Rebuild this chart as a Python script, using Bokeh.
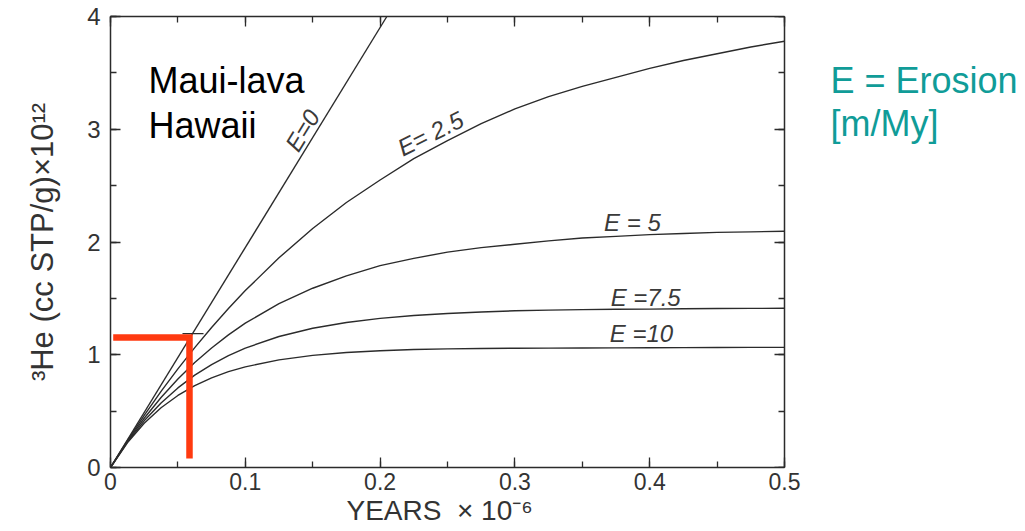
import math
from bokeh.plotting import figure
from bokeh.models import Label, LinearAxis, SingleIntervalTicker, Range1d, Title
from bokeh.embed import file_html
from bokeh.resources import INLINE

# ---- data ----
years = [0, 0.0125, 0.025, 0.0375, 0.05, 0.0625, 0.075, 0.0875, 0.1, 0.125, 0.15, 0.175, 0.2,
         0.225, 0.25, 0.275, 0.3, 0.325, 0.35, 0.375, 0.4, 0.425, 0.45, 0.475, 0.5]
e0_years = [0, 0.205]
e0_he = [0, 4.0]
e25_he = [0, 0.238, 0.463, 0.675, 0.875, 1.063, 1.242, 1.41, 1.569, 1.86, 2.12, 2.35, 2.55,
          2.74, 2.90, 3.05, 3.18, 3.29, 3.38, 3.46, 3.54, 3.61, 3.67, 3.73, 3.78]
e5_he = [0, 0.231, 0.437, 0.621, 0.785, 0.931, 1.06, 1.176, 1.28, 1.453, 1.59, 1.70, 1.79,
         1.855, 1.91, 1.95, 1.98, 2.01, 2.035, 2.05, 2.065, 2.075, 2.085, 2.09, 2.095]
e75_he = [0, 0.225, 0.414, 0.572, 0.706, 0.819, 0.913, 0.992, 1.059, 1.162, 1.235, 1.286, 1.323,
          1.348, 1.366, 1.379, 1.39, 1.396, 1.40, 1.403, 1.405, 1.408, 1.41, 1.411, 1.412]
e10_he = [0, 0.219, 0.392, 0.53, 0.639, 0.726, 0.795, 0.85, 0.893, 0.955, 0.994, 1.02, 1.036,
          1.046, 1.052, 1.055, 1.058, 1.059, 1.06, 1.061, 1.062, 1.063, 1.064, 1.065, 1.065]

curve_labels = ["E=0", "E= 2.5", "E = 5", "E =7.5", "E =10"]
label_x = [0.1424, 0.2374, 0.3872, 0.3970, 0.3939]
label_y = [2.989, 2.962, 2.173, 1.508, 1.188]
label_angle_deg = [58.6, 26.6, 0, 0, 0]

marker_x = [0.002, 0.0586, 0.0586]
marker_y = [1.153, 1.153, 0.08]
sample_x = [0.0534, 0.069]
sample_y = [1.188, 1.188]

x_min, x_max = 0, 0.5
y_min, y_max = 0, 4
x_ticks_interval = 0.1
y_ticks_interval = 1
x_title = "YEARS\u00a0 ×\u00a010⁻⁶"
y_title = "³He (cc STP/g)×10¹²"

LINE = "#2b2b2b"
TXT = "#333333"
FONT = "Liberation Sans"

FW = 910  # frame runs to the right edge so the right-hand note can be drawn
p = figure(frame_width=FW, frame_height=451, output_backend="svg", toolbar_location=None,
           x_range=Range1d(x_min, x_max * FW / 674.0), y_range=Range1d(y_min, y_max),
           min_border_left=110, min_border_right=0, min_border_top=16, min_border_bottom=64,
           x_axis_type=None, y_axis_type=None)
p.grid.visible = False
p.outline_line_color = None
p.background_fill_color = "white"
p.border_fill_color = "white"

def mk_axis(kind, labels, **kw):
    tick = SingleIntervalTicker(interval=x_ticks_interval if kind == "x" else y_ticks_interval, num_minor_ticks=2)
    ax = LinearAxis(ticker=tick, bounds=(x_min, x_max) if kind == "x" else (y_min, y_max), **kw)
    ax.axis_line_color = LINE
    ax.axis_line_width = 1.5
    ax.major_tick_in = 10
    ax.major_tick_out = 0
    ax.minor_tick_in = 6
    ax.minor_tick_out = 0
    ax.major_tick_line_color = LINE
    ax.minor_tick_line_color = LINE
    ax.major_tick_line_width = 1.3
    ax.minor_tick_line_width = 1.3
    if labels:
        ax.major_label_text_font = FONT
        ax.major_label_text_font_size = "23px" if kind == "x" else "24px"
        ax.major_label_text_color = TXT
        ax.major_label_standoff = 5 if kind == "x" else 10
        ax.axis_label_text_font = FONT
        ax.axis_label_text_font_style = "normal"
        ax.axis_label_text_color = TXT
    else:
        ax.major_label_text_font_size = "0px"
        ax.major_label_standoff = 0
        ax.major_label_text_alpha = 0
    return ax

xb = mk_axis("x", True)
yl = mk_axis("y", True, axis_label=y_title)
yl.axis_label_text_font_size = "31px"
yl.axis_label_standoff = 24
p.add_layout(xb, "below")
p.add_layout(yl, "left")
p.add_layout(mk_axis("x", False), "above")
p.add_layout(mk_axis("y", False, fixed_location=x_max), "right")
p.add_layout(Title(text=x_title, align="left", offset=236, standoff=0, text_font=FONT,
                   text_font_size="28px", text_font_style="normal", text_color=TXT), "below")

# curves
p.line(e0_years, e0_he, line_color=LINE, line_width=1.4)
for ys in (e25_he, e5_he, e75_he, e10_he):
    p.line(years, ys, line_color=LINE, line_width=1.4)

for t, x, y, a in zip(curve_labels, label_x, label_y, label_angle_deg):
    p.add_layout(Label(x=x, y=y, text=t, angle=math.radians(a), text_align="center",
                       text_baseline="middle", text_font=FONT, text_font_style="italic",
                       text_font_size="24px", text_color="#3a3a3a"))

# sample marker
p.line(sample_x, sample_y, line_color=LINE, line_width=1.3)
p.line(marker_x, marker_y, line_color="#ff3a10", line_width=6.5, line_join="miter")

# annotations
for t, y in (("Maui-lava", 3.432), ("Hawaii", 3.033)):
    p.add_layout(Label(x=0.0282, y=y, text=t, text_font=FONT, text_font_size="36px",
                       text_color="black", text_baseline="alphabetic"))
for t, y in (("E = Erosion", 3.432), ("[m/My]", 3.051)):
    p.add_layout(Label(x=0.5341, y=y, text=t, text_font=FONT, text_font_size="36px",
                       text_color="#109c98", text_baseline="alphabetic"))

open("out.html", "w").write(file_html(p, INLINE))
